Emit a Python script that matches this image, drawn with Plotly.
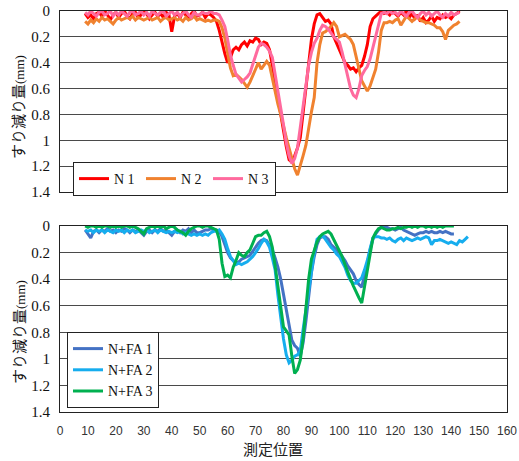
import plotly.graph_objects as go

# measurement positions
pos_N1 = list(range(9, 144))
pos_N2 = list(range(9, 144))
pos_N3 = list(range(9, 144))
pos_FA1 = list(range(9, 142))
pos_FA2 = list(range(9, 147))
pos_FA3 = list(range(9, 142))

N1 = [0.02,0.05,0.03,0.06,0.02,0.01,0.04,0.0,0.03,0.07,0.03,0.01,0.05,0.02,0.0,0.04,0.06,0.02,0.01,0.05,
      0.03,0.0,0.02,0.06,0.03,0.01,0.04,0.02,0.05,0.01,0.03,0.16,0.04,0.02,0.05,0.01,0.03,0.06,0.02,0.0,
      0.04,0.03,0.01,0.05,0.02,0.03,0.05,
      0.08,0.15,0.25,0.33,0.40,0.36,0.30,0.28,0.30,0.26,0.24,0.27,0.23,0.24,0.21,0.22,0.26,0.24,0.25,0.30,
      0.42,0.55,0.68,0.80,0.92,1.05,1.15,1.17,1.12,1.06,0.98,0.80,0.60,0.42,0.22,0.10,0.03,0.02,0.05,0.08,
      0.07,0.10,0.20,0.25,0.30,0.36,0.40,0.42,0.45,0.44,0.47,0.44,0.42,0.35,0.26,0.12,0.06,0.04,0.02,0.0,
      0.02,0.01,0.03,0.0,0.02,0.04,0.01,0.03,0.0,0.05,0.02,0.06,0.03,0.08,0.05,0.09,0.07,0.04,0.08,0.05,
      0.06,0.03,0.05,0.04,0.06,0.03,0.02,0.0]
N2 = [0.08,0.10,0.07,0.09,0.06,0.08,0.05,0.07,0.06,0.08,0.10,0.07,0.05,0.07,0.06,0.05,0.06,0.04,0.07,0.05,
      0.06,0.07,0.06,0.05,0.07,0.06,0.05,0.08,0.06,0.05,0.07,0.06,0.05,0.07,0.06,0.08,0.05,0.07,0.06,0.04,
      0.07,0.06,0.07,0.08,0.07,0.08,0.07,0.07,0.08,
      0.13,0.21,0.33,0.44,0.50,0.49,0.51,0.53,0.56,0.59,0.55,0.50,0.46,0.40,0.45,0.42,0.39,0.42,0.52,0.63,
      0.72,0.80,0.90,0.98,1.06,1.14,1.22,1.27,1.20,1.12,1.04,0.90,0.78,0.67,0.40,0.26,0.17,0.16,0.14,0.12,
      0.09,0.12,0.20,0.19,0.18,0.20,0.22,0.26,0.36,0.45,0.54,0.58,0.62,0.58,0.52,0.45,0.32,0.15,0.09,0.09,
      0.08,0.09,0.07,0.06,0.11,0.07,0.04,0.06,0.08,0.06,0.05,0.07,0.08,0.09,0.09,0.10,0.11,0.13,0.13,0.16,
      0.22,0.15,0.13,0.11,0.10,0.08]
N3 = [0.01,0.03,0.0,0.02,0.04,0.01,0.0,0.03,0.02,0.0,0.04,0.01,0.03,0.0,0.02,0.04,0.01,0.0,0.03,0.02,
      0.0,0.03,0.01,0.04,0.0,0.02,0.03,0.01,0.0,0.04,0.02,0.0,0.03,0.01,0.04,0.02,0.0,0.03,0.05,0.01,
      0.03,0.03,0.01,0.02,0.02,0.0,0.02,0.02,0.03,
      0.07,0.12,0.22,0.34,0.42,0.49,0.52,0.55,0.53,0.51,0.48,0.41,0.34,0.28,0.25,0.26,0.28,0.31,0.36,0.50,
      0.63,0.75,0.88,1.02,1.12,1.18,1.14,1.06,0.90,0.73,0.56,0.42,0.32,0.25,0.21,0.15,0.11,0.12,0.14,0.17,
      0.20,0.22,0.24,0.32,0.42,0.52,0.60,0.65,0.67,0.60,0.50,0.46,0.43,0.37,0.29,0.20,0.11,0.02,0.01,0.02,
      0.0,0.02,0.01,0.03,0.0,0.02,0.04,0.01,0.0,0.03,0.05,0.02,0.0,0.03,0.01,0.04,0.02,0.0,0.03,0.05,
      0.02,0.04,0.01,0.03,0.02,0.01]
FA1 = [0.03,0.06,0.09,0.04,0.03,0.05,0.03,0.04,0.02,0.04,0.03,0.05,0.03,0.04,0.02,0.03,0.05,0.03,0.04,0.03,
       0.05,0.07,0.04,0.03,0.05,0.03,0.04,0.02,0.04,0.03,0.05,0.07,0.04,0.03,0.05,0.03,0.04,0.02,0.05,0.03,
       0.05,0.05,0.04,0.03,0.03,0.02,0.03,0.03,0.04,
       0.08,0.14,0.20,0.24,0.26,0.28,0.27,0.25,0.24,0.23,0.22,0.19,0.16,0.13,0.11,0.10,0.11,0.14,0.18,0.24,
       0.31,0.40,0.52,0.62,0.75,0.86,0.90,0.92,0.98,0.88,0.72,0.52,0.35,0.23,0.14,0.09,0.08,0.08,0.10,0.14,
       0.16,0.18,0.20,0.23,0.26,0.30,0.33,0.36,0.41,0.44,0.46,0.38,0.28,0.18,0.10,0.06,0.03,0.01,0.0,0.01,
       0.02,0.02,0.03,0.02,0.01,0.03,0.04,0.05,0.06,0.07,0.06,0.05,0.05,0.04,0.05,0.04,0.05,0.05,0.04,0.05,
       0.04,0.05,0.06,0.06]
FA2 = [0.03,0.04,0.03,0.05,0.03,0.04,0.03,0.05,0.03,0.04,0.05,0.03,0.04,0.03,0.05,0.03,0.04,0.03,0.05,0.04,
       0.03,0.04,0.03,0.05,0.04,0.03,0.05,0.03,0.04,0.05,0.04,0.05,0.04,0.05,0.04,0.06,0.05,0.06,0.07,0.06,
       0.07,0.06,0.07,0.06,0.07,0.05,0.04,0.04,0.03,
       0.06,0.10,0.17,0.23,0.26,0.29,0.28,0.29,0.28,0.27,0.25,0.23,0.20,0.17,0.13,0.10,0.12,0.16,0.24,0.33,
       0.52,0.71,0.85,0.97,1.03,1.01,0.98,0.97,0.94,0.78,0.63,0.48,0.33,0.20,0.10,0.08,0.07,0.10,0.13,0.16,
       0.18,0.21,0.23,0.27,0.31,0.37,0.41,0.43,0.43,0.41,0.39,0.33,0.26,0.17,0.09,0.08,0.08,0.09,0.09,0.10,
       0.09,0.11,0.12,0.10,0.09,0.11,0.09,0.10,0.11,0.10,0.09,0.10,0.09,0.08,0.09,0.14,0.11,0.11,0.10,0.11,
       0.12,0.13,0.12,0.13,0.14,0.11,0.12,0.10,0.08]
FA3 = [0.0,0.01,0.0,0.0,0.01,0.0,0.01,0.0,0.0,0.01,0.0,0.01,0.0,0.01,0.0,0.0,0.01,0.0,0.01,0.02,
       0.04,0.06,0.02,0.01,0.0,0.01,0.0,0.01,0.0,0.02,0.01,0.0,0.01,0.03,0.04,0.05,0.07,0.04,0.02,0.01,
       0.0,0.0,0.01,0.0,0.0,0.01,0.02,0.03,0.10,
       0.28,0.38,0.37,0.39,0.31,0.26,0.20,0.22,0.23,0.20,0.18,0.13,0.08,0.07,0.07,0.05,0.04,0.08,0.16,0.30,
       0.46,0.62,0.76,0.79,0.82,0.98,1.11,1.08,1.01,0.85,0.62,0.40,0.25,0.18,0.12,0.08,0.06,0.05,0.04,0.06,
       0.10,0.15,0.19,0.23,0.29,0.35,0.40,0.45,0.50,0.54,0.58,0.46,0.32,0.20,0.09,0.05,0.02,0.01,0.02,0.03,
       0.03,0.02,0.02,0.01,0.02,0.01,0.01,0.0,0.01,0.0,0.01,0.0,0.0,0.01,0.0,0.01,0.0,0.01,0.0,0.01,
       0.0,0.0,0.0,0.0]

y_ticks = [0, 0.2, 0.4, 0.6, 0.8, 1.0, 1.2, 1.4]
y_labels = ["0", "0.2", "0.4", "0.6", "0.8", "1", "1.2", "1.4"]
x_ticks = list(range(0, 161, 10))

SERIF = "Liberation Serif, Times New Roman, serif"
SANS = "Liberation Sans, Arial, sans-serif"
CJK = "Noto Sans CJK JP, sans-serif"

fig = go.Figure()
top = [("N 1", pos_N1, N1, "#FF0000"), ("N 2", pos_N2, N2, "#F0822F"), ("N 3", pos_N3, N3, "#FF6A9E")]
bot = [("N+FA 1", pos_FA1, FA1, "#4472C4"), ("N+FA 2", pos_FA2, FA2, "#16ADEE"), ("N+FA 3", pos_FA3, FA3, "#00B050")]
for name, xs, ys, c in top:
    fig.add_trace(go.Scatter(x=xs, y=ys, name=name, mode="lines", line=dict(color=c, width=3),
                             xaxis="x", yaxis="y", legend="legend"))
for name, xs, ys, c in bot:
    fig.add_trace(go.Scatter(x=xs, y=ys, name=name, mode="lines", line=dict(color=c, width=3),
                             xaxis="x2", yaxis="y2", legend="legend2"))

H_PLOT = 401.0
def py(p):
    return (412 - p) / H_PLOT
def px(p):
    return (p - 60) / 447.0

yax = dict(range=[1.4, 0], tickvals=y_ticks, ticktext=y_labels, showgrid=True, gridcolor="#4a4a4a",
           gridwidth=1, showline=True, mirror=True, linecolor="#222", linewidth=1, ticks="",
           tickfont=dict(family=SERIF, size=15, color="#111"), ticklabelstandoff=6, zeroline=False,
           automargin=False)
xax = dict(range=[0, 160], tickvals=x_ticks, showgrid=False, showline=True, mirror=True,
           linecolor="#222", linewidth=1, ticks="", zeroline=False, automargin=False)

fig.update_layout(
    width=519, height=461, margin=dict(l=60, r=12, t=11, b=49, autoexpand=False),
    paper_bgcolor="white", plot_bgcolor="white", showlegend=True,
    xaxis=dict(xax, anchor="y", showticklabels=False),
    yaxis=dict(yax, domain=[py(192), 1], anchor="x"),
    xaxis2=dict(xax, anchor="y2", showticklabels=True,
                tickfont=dict(family=SANS, size=12, color="#333"), ticklabelstandoff=8),
    yaxis2=dict(yax, domain=[0, py(226)], anchor="x2"),
    legend=dict(orientation="h", x=px(73), y=py(162), xanchor="left", yanchor="top",
                bordercolor="#222", borderwidth=1, bgcolor="white",
                font=dict(family=SERIF, size=14, color="#111"), entrywidth=22, entrywidthmode="pixels"),
    legend2=dict(orientation="v", x=px(67), y=py(332), xanchor="left", yanchor="top",
                 bordercolor="#222", borderwidth=1, bgcolor="white",
                 font=dict(family=SERIF, size=14, color="#111"), tracegroupgap=0),
    annotations=[
        dict(text="すり減り量<span style='font-family:Liberation Serif;font-size:13px'>(mm)</span>",
             x=px(18), y=py(107), xref="paper", yref="paper", textangle=-90, showarrow=False,
             xanchor="center", yanchor="middle", font=dict(family=CJK, size=15, color="#111")),
        dict(text="すり減り量<span style='font-family:Liberation Serif;font-size:13px'>(mm)</span>",
             x=px(18), y=py(332), xref="paper", yref="paper", textangle=-90, showarrow=False,
             xanchor="center", yanchor="middle", font=dict(family=CJK, size=15, color="#111")),
        dict(text="測定位置", x=px(273), y=py(448), xref="paper", yref="paper", showarrow=False,
             xanchor="center", yanchor="middle", font=dict(family=CJK, size=15, color="#222")),
    ],
)

fig.write_html("out.html", config={"displayModeBar": False},
               post_script="document.body.style.margin='0px';")
